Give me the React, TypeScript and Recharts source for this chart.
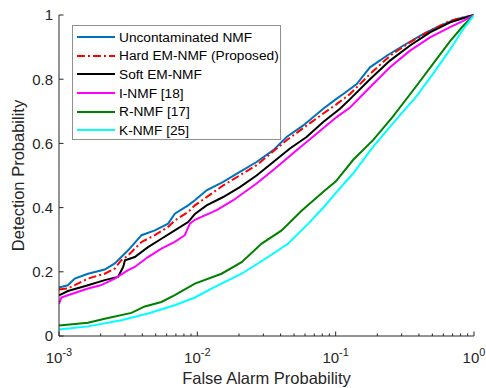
import { LineChart, Line, XAxis, YAxis, Legend } from "recharts"

// false alarm (x) / detection (y) pairs, per method
const fpUncontaminated = [0.001, 0.00116, 0.0013, 0.00162, 0.00214, 0.00253, 0.00316, 0.00395, 0.00493, 0.00615, 0.00687, 0.00858, 0.0096, 0.01167, 0.01538, 0.0203, 0.0268, 0.0354, 0.0442, 0.0583, 0.0813, 0.1, 0.1135, 0.142, 0.177, 0.234, 0.309, 0.431, 0.569, 0.751, 1]
const pdUncontaminated = [0.151, 0.158, 0.179, 0.194, 0.207, 0.226, 0.267, 0.314, 0.329, 0.35, 0.381, 0.407, 0.423, 0.454, 0.48, 0.511, 0.542, 0.579, 0.62, 0.656, 0.708, 0.737, 0.754, 0.785, 0.837, 0.873, 0.905, 0.941, 0.967, 0.988, 1]

const fpHard = [0.001, 0.00116, 0.00162, 0.00214, 0.00253, 0.00282, 0.00316, 0.00395, 0.00493, 0.00615, 0.00687, 0.00858, 0.0096, 0.01538, 0.0268, 0.0442, 0.0813, 0.1, 0.127, 0.177, 0.247, 0.345, 0.481, 0.672, 1]
const pdHard = [0.145, 0.148, 0.179, 0.194, 0.21, 0.236, 0.251, 0.293, 0.314, 0.34, 0.36, 0.386, 0.407, 0.469, 0.532, 0.61, 0.693, 0.72, 0.754, 0.816, 0.873, 0.915, 0.951, 0.982, 1]

const fpSoft = [0.001, 0.00116, 0.00162, 0.00214, 0.00267, 0.00291, 0.003, 0.00353, 0.0044, 0.0055, 0.00687, 0.00858, 0.0096, 0.01167, 0.01538, 0.0203, 0.0268, 0.0354, 0.0467, 0.0616, 0.0813, 0.1074, 0.127, 0.177, 0.247, 0.345, 0.481, 0.672, 1]
const pdSoft = [0.127, 0.14, 0.158, 0.174, 0.184, 0.215, 0.236, 0.246, 0.277, 0.303, 0.329, 0.355, 0.38, 0.407, 0.433, 0.464, 0.5, 0.542, 0.584, 0.62, 0.667, 0.708, 0.738, 0.8, 0.858, 0.905, 0.946, 0.977, 1]

const fpINmf = [0.001, 0.00104, 0.00116, 0.00162, 0.002, 0.00253, 0.00316, 0.00353, 0.0044, 0.0055, 0.00687, 0.00812, 0.00883, 0.0096, 0.0138, 0.0182, 0.0268, 0.0374, 0.0522, 0.0728, 0.1016, 0.127, 0.177, 0.247, 0.345, 0.481, 0.672, 0.838, 1]
const pdINmf = [0.1, 0.12, 0.127, 0.148, 0.158, 0.179, 0.205, 0.215, 0.246, 0.272, 0.293, 0.314, 0.35, 0.362, 0.392, 0.423, 0.475, 0.526, 0.579, 0.63, 0.682, 0.712, 0.775, 0.837, 0.889, 0.93, 0.962, 0.982, 1]

const fpRNmf = [0.001, 0.00162, 0.00214, 0.00334, 0.00417, 0.0055, 0.00687, 0.0096, 0.01496, 0.0209, 0.0292, 0.0407, 0.0567, 0.0838, 0.1, 0.134, 0.187, 0.26, 0.382, 0.51, 0.67, 0.83, 1]
const pdRNmf = [0.033, 0.041, 0.054, 0.072, 0.092, 0.106, 0.127, 0.163, 0.194, 0.23, 0.288, 0.329, 0.39, 0.454, 0.481, 0.549, 0.611, 0.684, 0.778, 0.85, 0.918, 0.965, 1]

const fpKNmf = [0.001, 0.00162, 0.00282, 0.0044, 0.00687, 0.0096, 0.0134, 0.0209, 0.0325, 0.0454, 0.0634, 0.0835, 0.1, 0.134, 0.187, 0.26, 0.382, 0.51, 0.67, 0.83, 1]
const pdKNmf = [0.02, 0.03, 0.049, 0.07, 0.096, 0.12, 0.153, 0.194, 0.246, 0.288, 0.35, 0.405, 0.445, 0.507, 0.59, 0.663, 0.746, 0.819, 0.892, 0.954, 1]

const X_TICKS = [
  0.001, 0.002, 0.003, 0.004, 0.005, 0.006, 0.007, 0.008, 0.009,
  0.01, 0.02, 0.03, 0.04, 0.05, 0.06, 0.07, 0.08, 0.09,
  0.1, 0.2, 0.3, 0.4, 0.5, 0.6, 0.7, 0.8, 0.9,
  1,
]
const X_MAJOR = [0.001, 0.01, 0.1, 1]
const X_EXPONENTS = ["-3", "-2", "-1", "0"]
const Y_TICKS = [0, 0.2, 0.4, 0.6, 0.8, 1]
const Y_LABELS = ["0", "0.2", "0.4", "0.6", "0.8", "1"]

const zip = (fp: number[], pd: number[]) => fp.map((x, i) => ({ fp: x, pd: pd[i] }))

const series = [
  { name: "Uncontaminated NMF", data: zip(fpUncontaminated, pdUncontaminated), color: "#0072BD", dash: undefined },
  { name: "Hard EM-NMF (Proposed)", data: zip(fpHard, pdHard), color: "#FF0000", dash: "8 3 2 3" },
  { name: "Soft EM-NMF", data: zip(fpSoft, pdSoft), color: "#000000", dash: undefined },
  { name: "I-NMF [18]", data: zip(fpINmf, pdINmf), color: "#FF00FF", dash: undefined },
  { name: "R-NMF [17]", data: zip(fpRNmf, pdRNmf), color: "#008000", dash: undefined },
  { name: "K-NMF [25]", data: zip(fpKNmf, pdKNmf), color: "#00FFFF", dash: undefined },
]

const FONT = "'Liberation Sans', Arial, Helvetica, sans-serif"
const INK = "#262626"

const isMajor = (v: number) => X_MAJOR.some((m) => Math.abs(m - v) < 1e-9)

function BottomTick({ x, y, payload }: any) {
  const idx = X_MAJOR.findIndex((m) => Math.abs(m - payload.value) < 1e-9)
  const len = idx >= 0 ? 4.5 : 2.5
  return (
    <g>
      <line x1={x} x2={x} y1={y} y2={y - len} stroke={INK} />
      {idx >= 0 && (
        <text x={x} y={y + 27} textAnchor="middle" fontFamily={FONT} fontSize={15} fill={INK}>
          10
          <tspan dy={-7} fontSize={11}>
            {X_EXPONENTS[idx]}
          </tspan>
        </text>
      )}
    </g>
  )
}

function TopTick({ x, y, payload }: any) {
  const len = isMajor(payload.value) ? 4.5 : 2.5
  return <line x1={x} x2={x} y1={y} y2={y + len} stroke={INK} />
}

function LeftTick({ x, y, payload, index }: any) {
  return (
    <g>
      <line x1={x} x2={x + 4.5} y1={y} y2={y} stroke={INK} />
      <text x={x - 6} y={y} dy="0.36em" textAnchor="end" fontFamily={FONT} fontSize={15} fill={INK}>
        {Y_LABELS[index] ?? String(payload.value)}
      </text>
    </g>
  )
}

function RightTick({ x, y }: any) {
  return <line x1={x} x2={x - 4.5} y1={y} y2={y} stroke={INK} />
}

function LegendBox() {
  return (
    <div
      style={{
        width: 209,
        height: 115,
        boxSizing: "border-box",
        border: "1px solid #8f8f8f",
        background: "#fff",
        paddingTop: 2,
        paddingLeft: 4,
        fontFamily: FONT,
        fontSize: 13.7,
        color: "#000",
      }}
    >
      {series.map((s) => (
        <div key={s.name} style={{ display: "flex", alignItems: "center", height: 18.6, whiteSpace: "nowrap" }}>
          <svg width={40} height={6} style={{ marginRight: 2 }}>
            <line x1={0} x2={38} y1={3} y2={3} stroke={s.color} strokeWidth={2.2} strokeDasharray={s.dash} />
          </svg>
          <span>{s.name}</span>
        </div>
      ))}
    </div>
  )
}

export default function App() {
  return (
    <div style={{ position: "absolute", left: 0, top: 0, background: "#fff" }}>
      <LineChart width={486} height={388} margin={{ top: 15, right: 12, bottom: 0, left: 0 }}>
        <XAxis
          xAxisId="bottom"
          type="number"
          dataKey="fp"
          scale="log"
          domain={[0.001, 1]}
          allowDataOverflow
          ticks={X_TICKS}
          interval={0}
          height={52}
          tickSize={0}
          tickMargin={0}
          tickLine={false}
          tick={<BottomTick />}
          axisLine={{ stroke: INK }}
          label={{
            content: ({ viewBox }: any) => (
              <text
                x={viewBox.x + viewBox.width / 2}
                y={viewBox.y + 48}
                textAnchor="middle"
                fontFamily={FONT}
                fontSize={16.5}
                fill={INK}
              >
                False Alarm Probability
              </text>
            ),
          }}
        />
        <XAxis
          xAxisId="top"
          orientation="top"
          type="number"
          dataKey="fp"
          scale="log"
          domain={[0.001, 1]}
          allowDataOverflow
          ticks={X_TICKS}
          interval={0}
          height={0}
          tickSize={0}
          tickMargin={0}
          tickLine={false}
          tick={<TopTick />}
          axisLine={{ stroke: INK }}
        />
        <YAxis
          yAxisId="left"
          type="number"
          domain={[0, 1]}
          ticks={Y_TICKS}
          interval={0}
          width={59}
          tickSize={0}
          tickMargin={0}
          tickLine={false}
          tick={<LeftTick />}
          axisLine={{ stroke: INK }}
          label={{
            content: ({ viewBox }: any) => {
              const cx = viewBox.x + 18
              const cy = viewBox.y + viewBox.height / 2
              return (
                <text
                  x={cx}
                  y={cy}
                  dy="0.36em"
                  transform={`rotate(-90 ${cx} ${cy})`}
                  textAnchor="middle"
                  fontFamily={FONT}
                  fontSize={16.5}
                  fill={INK}
                >
                  Detection Probability
                </text>
              )
            },
          }}
        />
        <YAxis
          yAxisId="right"
          orientation="right"
          type="number"
          domain={[0, 1]}
          ticks={Y_TICKS}
          interval={0}
          width={0}
          tickSize={0}
          tickMargin={0}
          tickLine={false}
          tick={<RightTick />}
          axisLine={{ stroke: INK }}
        />
        <Legend
          layout="vertical"
          align="center"
          verticalAlign="middle"
          content={<LegendBox />}
          wrapperStyle={{ left: 72, top: 25, width: 209, height: 115 }}
        />
        {series.map((s) => (
          <Line
            key={s.name}
            xAxisId="bottom"
            yAxisId="left"
            data={s.data}
            dataKey="pd"
            name={s.name}
            type="linear"
            stroke={s.color}
            strokeWidth={2}
            strokeDasharray={s.dash}
            dot={false}
            activeDot={false}
            isAnimationActive={false}
          />
        ))}
      </LineChart>
    </div>
  )
}
